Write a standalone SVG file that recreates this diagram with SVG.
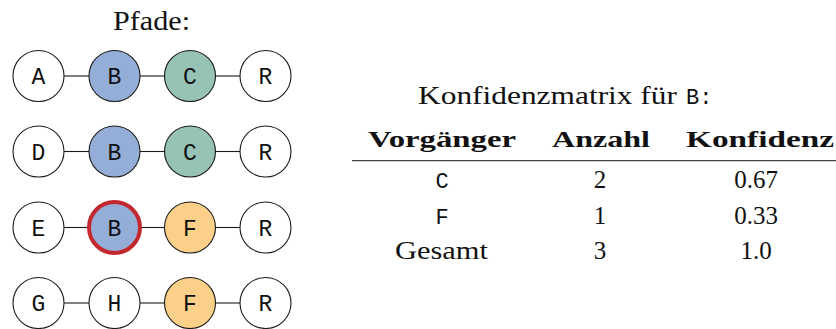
<svg xmlns="http://www.w3.org/2000/svg" width="836" height="329" viewBox="0 0 836 329">
<style>
.nd{stroke:#1a1a1a;stroke-width:1.1}
.w{fill:#ffffff}
.b{fill:#95aed8}
.c{fill:#96c3b5}
.f{fill:#fdd08a}
.hl{stroke:#c4282f;stroke-width:4}
.lbl{font-family:'Liberation Mono','Courier New',Courier,monospace;font-size:23px;fill:#111;text-anchor:middle}
.ser{font-family:'Liberation Serif','Times New Roman',serif;font-size:25px;fill:#111}
.big{font-size:28px}
.hd{font-family:'Liberation Serif','Times New Roman',serif;font-size:23px;font-weight:bold;fill:#111}
.mono{font-family:'Liberation Mono','Courier New',Courier,monospace;font-size:22px;fill:#111}
.cn{stroke:#1a1a1a;stroke-width:1.1}
</style>
<rect width="836" height="329" fill="#ffffff"/>
<text class="ser big" x="113" y="30" textLength="77" lengthAdjust="spacingAndGlyphs">Pfade:</text>
<g id="connectors">
<line class="cn" x1="64" y1="76" x2="89" y2="76"/>
<line class="cn" x1="140" y1="76" x2="164.5" y2="76"/>
<line class="cn" x1="215.5" y1="76" x2="240" y2="76"/>
<line class="cn" x1="64" y1="151.5" x2="89" y2="151.5"/>
<line class="cn" x1="140" y1="151.5" x2="164.5" y2="151.5"/>
<line class="cn" x1="215.5" y1="151.5" x2="240" y2="151.5"/>
<line class="cn" x1="64" y1="227.5" x2="89" y2="227.5"/>
<line class="cn" x1="140" y1="227.5" x2="164.5" y2="227.5"/>
<line class="cn" x1="215.5" y1="227.5" x2="240" y2="227.5"/>
<line class="cn" x1="64" y1="303" x2="89" y2="303"/>
<line class="cn" x1="140" y1="303" x2="164.5" y2="303"/>
<line class="cn" x1="215.5" y1="303" x2="240" y2="303"/>
</g>
<g id="n1A"><circle class="nd w" cx="38.5" cy="76" r="25.5"/><text class="lbl" x="38.5" y="84">A</text></g>
<g id="n1B"><circle class="nd b" cx="114.5" cy="76" r="25.5"/><text class="lbl" x="114.5" y="84">B</text></g>
<g id="n1C"><circle class="nd c" cx="190" cy="76" r="25.5"/><text class="lbl" x="190" y="84">C</text></g>
<g id="n1R"><circle class="nd w" cx="265.5" cy="76" r="25.5"/><text class="lbl" x="265.5" y="84">R</text></g>
<g id="n2D"><circle class="nd w" cx="38.5" cy="151.5" r="25.5"/><text class="lbl" x="38.5" y="159.5">D</text></g>
<g id="n2B"><circle class="nd b" cx="114.5" cy="151.5" r="25.5"/><text class="lbl" x="114.5" y="159.5">B</text></g>
<g id="n2C"><circle class="nd c" cx="190" cy="151.5" r="25.5"/><text class="lbl" x="190" y="159.5">C</text></g>
<g id="n2R"><circle class="nd w" cx="265.5" cy="151.5" r="25.5"/><text class="lbl" x="265.5" y="159.5">R</text></g>
<g id="n3E"><circle class="nd w" cx="38.5" cy="227.5" r="25.5"/><text class="lbl" x="38.5" y="235.5">E</text></g>
<g id="n3B"><circle class="b hl" cx="114.5" cy="227.5" r="25.5"/><text class="lbl" x="114.5" y="235.5">B</text></g>
<g id="n3F"><circle class="nd f" cx="190" cy="227.5" r="25.5"/><text class="lbl" x="190" y="235.5">F</text></g>
<g id="n3R"><circle class="nd w" cx="265.5" cy="227.5" r="25.5"/><text class="lbl" x="265.5" y="235.5">R</text></g>
<g id="n4G"><circle class="nd w" cx="38.5" cy="303" r="25.5"/><text class="lbl" x="38.5" y="311">G</text></g>
<g id="n4H"><circle class="nd w" cx="114.5" cy="303" r="25.5"/><text class="lbl" x="114.5" y="311">H</text></g>
<g id="n4F"><circle class="nd f" cx="190" cy="303" r="25.5"/><text class="lbl" x="190" y="311">F</text></g>
<g id="n4R"><circle class="nd w" cx="265.5" cy="303" r="25.5"/><text class="lbl" x="265.5" y="311">R</text></g>
<g id="table">
<text class="ser" x="418" y="104" textLength="259" lengthAdjust="spacingAndGlyphs">Konfidenzmatrix für</text>
<text class="mono" x="686" y="104">B:</text>
<text class="hd" x="368" y="147" textLength="148" lengthAdjust="spacingAndGlyphs">Vorgänger</text>
<text class="hd" x="552" y="147" textLength="98" lengthAdjust="spacingAndGlyphs">Anzahl</text>
<text class="hd" x="686" y="147" textLength="148" lengthAdjust="spacingAndGlyphs">Konfidenz</text>
<line x1="352" y1="160.7" x2="836" y2="160.7" stroke="#444" stroke-width="1.3"/>
<text class="mono" x="442" y="188" text-anchor="middle">C</text>
<text class="ser" x="600" y="188" text-anchor="middle">2</text>
<text class="ser" x="756" y="188" text-anchor="middle">0.67</text>
<text class="mono" x="442" y="223.5" text-anchor="middle">F</text>
<text class="ser" x="600" y="223.5" text-anchor="middle">1</text>
<text class="ser" x="756" y="223.5" text-anchor="middle">0.33</text>
<text class="ser" x="395" y="259" textLength="93" lengthAdjust="spacingAndGlyphs">Gesamt</text>
<text class="ser" x="600" y="259" text-anchor="middle">3</text>
<text class="ser" x="756" y="259" text-anchor="middle">1.0</text>
</g>
</svg>
